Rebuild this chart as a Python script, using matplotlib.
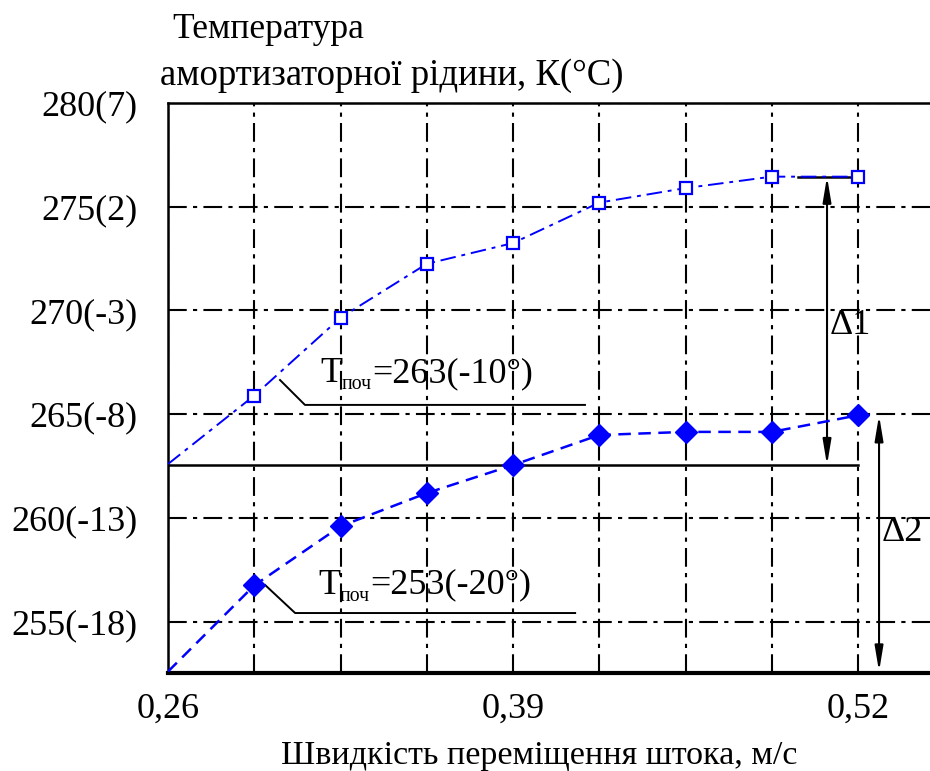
import matplotlib
matplotlib.use("Agg")
import matplotlib.pyplot as plt
from matplotlib.transforms import offset_copy

plt.rcParams['font.family'] = ['Liberation Serif', 'DejaVu Serif']

# ---- data ----
x_pts = [0.2925, 0.325, 0.3575, 0.39, 0.4225, 0.455, 0.4875, 0.52]
temp_263 = [265.9, 269.65, 272.25, 273.25, 275.2, 275.9, 276.45, 276.45]
temp_253 = [256.75, 259.6, 261.2, 262.55, 264.0, 264.15, 264.15, 264.95]
start_263 = 262.6
start_253 = 252.6
x_start = 0.26

xtick_pos = [0.26, 0.2925, 0.325, 0.3575, 0.39, 0.4225, 0.455, 0.4875, 0.52]
xtick_lbl = ['0,26', '', '', '', '0,39', '', '', '', '0,52']
ytick_pos = [255, 260, 265, 270, 275, 280]
ytick_lbl = ['255(-18)', '260(-13)', '265(-8)', '270(-3)', '275(2)', '280(7)']

fig = plt.figure(figsize=(9.30, 7.71), dpi=100)
ax = fig.add_axes([168 / 930, (771 - 673) / 771, (930 - 168) / 930, (673 - 103) / 771])
ax.set_xlim(0.26, 0.5471)
ax.set_ylim(252.53, 280.0)

FS = 26
dashdot = (0, (9, 3, 2, 3))

ax.set_xticks(xtick_pos)
ax.set_xticklabels(xtick_lbl, fontsize=FS)
ax.set_yticks(ytick_pos)
ax.set_yticklabels(ytick_lbl, fontsize=FS)
ax.tick_params(axis='both', length=0)
ax.tick_params(axis='y', pad=22)
ax.tick_params(axis='x', pad=14)
ax.grid(True, color='black', linestyle=dashdot, linewidth=1.5)

ax.spines['right'].set_visible(False)
ax.spines['left'].set_linewidth(1.8)
ax.spines['top'].set_linewidth(1.8)
ax.spines['bottom'].set_linewidth(3.0)

# series
ax.plot([x_start] + x_pts, [start_263] + temp_263, color='blue', lw=1.4,
        linestyle=(0, (8, 3, 2, 3)), zorder=4)
ax.plot(x_pts, temp_263, linestyle='none', marker='s', markersize=9,
        markerfacecolor='white', markeredgecolor='blue', markeredgewidth=1.6, zorder=5)
ax.plot([x_start] + x_pts, [start_253] + temp_253, color='blue', lw=1.8,
        linestyle=(0, (5, 3)), zorder=4)
ax.plot(x_pts, temp_253, linestyle='none', marker='D', markersize=11,
        color='blue', zorder=5)

# solid reference line at initial temperature
ax.plot([0.26, 0.52], [262.55, 262.55], color='black', lw=1.8, zorder=3)

# leaders
ax.plot([0.3022, 0.3116, 0.4171], [266.65, 265.45, 265.45], color='black', lw=1.4, zorder=3)
ax.plot([0.2966, 0.3079, 0.4134], [256.77, 255.42, 255.42], color='black', lw=1.4, zorder=3)


def label_T(x, y, rest):
    t1 = ax.text(x, y, 'T', fontsize=FS, va='baseline', ha='left')
    fig.canvas.draw()
    r = fig.canvas.get_renderer()
    w1 = t1.get_window_extent(r).width * 72 / fig.dpi
    tr2 = offset_copy(ax.transData, fig=fig, x=w1, y=-5, units='points')
    t2 = ax.text(x, y, 'поч', fontsize=FS * 0.55, va='baseline', ha='left', transform=tr2)
    fig.canvas.draw()
    w2 = t2.get_window_extent(r).width * 72 / fig.dpi
    tr3 = offset_copy(ax.transData, fig=fig, x=w1 + w2, y=0, units='points')
    ax.text(x, y, rest, fontsize=FS, va='baseline', ha='left', transform=tr3)


label_T(0.3173, 266.55, '=263(-10°)')
label_T(0.3165, 256.35, '=253(-20°)')

# delta arrows
ax.plot([0.4974, 0.52], [276.45, 276.45], color='black', lw=1.8, zorder=3)
ax.annotate('', xy=(0.5083, 276.45), xytext=(0.5083, 262.55),
            arrowprops=dict(arrowstyle='<|-|>,head_length=1.5,head_width=0.25',
                            color='black', lw=1.5, shrinkA=0, shrinkB=0))
ax.annotate('', xy=(0.5279, 264.95), xytext=(0.5279, 252.6),
            arrowprops=dict(arrowstyle='<|-|>,head_length=1.5,head_width=0.25',
                            color='black', lw=1.5, shrinkA=0, shrinkB=0))
ax.text(0.5094, 269.3, 'Δ1', fontsize=FS, va='center', ha='left')
ax.text(0.5290, 259.3, 'Δ2', fontsize=FS, va='center', ha='left')

# titles
fig.text(172 / 930, 1 - 30 / 771, 'Температура', fontsize=25.5, va='center', ha='left')
fig.text(160 / 930, 1 - 76 / 771, 'амортизаторної рідини, К(°С)', fontsize=26.5,
         va='center', ha='left')
fig.text(539 / 930, 1 - 756 / 771, 'Швидкість переміщення штока, м/с', fontsize=24.5,
         va='center', ha='center')

fig.savefig('out.png', dpi=100)
